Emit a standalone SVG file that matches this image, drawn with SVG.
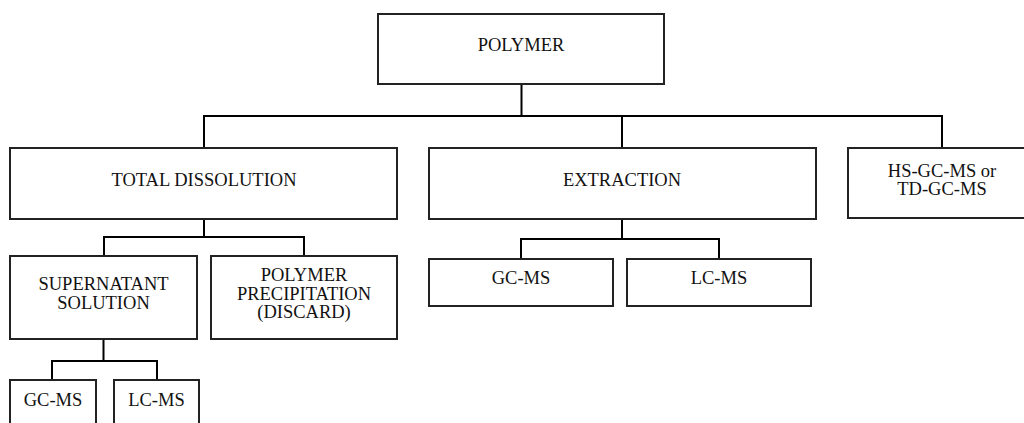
<svg xmlns="http://www.w3.org/2000/svg" width="1024" height="423" viewBox="0 0 1024 423">
<style>
.box{fill:#fff;stroke:#222;stroke-width:2}
.con{fill:none;stroke:#000;stroke-width:2}
text{font-family:"Liberation Serif","Times New Roman",serif;font-size:18.5px;fill:#111;text-anchor:middle}
</style>
<rect width="1024" height="423" fill="#fff"/>
<g id="connectors">
<path class="con" d="M521.5 84V116M204 148V116H942V148M622 116V148"/>
<path class="con" d="M204 219V237M104 256V237H304V256"/>
<path class="con" d="M103.5 339V361M52 380V361H157V380"/>
<path class="con" d="M622 219V239M521 259V239H719V259"/>
</g>
<g id="polymer"><rect class="box" x="378" y="14" width="286" height="70"/><text x="521" y="51">POLYMER</text></g>
<g id="total-dissolution"><rect class="box" x="10" y="148" width="387" height="71"/><text x="204" y="186">TOTAL DISSOLUTION</text></g>
<g id="extraction"><rect class="box" x="429" y="148" width="387" height="71"/><text x="622" y="186">EXTRACTION</text></g>
<g id="hs-td"><rect class="box" x="848" y="148" width="188" height="70"/><text x="942" y="177">HS-GC-MS or</text><text x="942" y="195">TD-GC-MS</text></g>
<g id="supernatant"><rect class="box" x="10" y="256" width="187" height="83"/><text x="103.5" y="290">SUPERNATANT</text><text x="103.5" y="309">SOLUTION</text></g>
<g id="precipitation"><rect class="box" x="211" y="256" width="186" height="83"/><text x="304" y="281">POLYMER</text><text x="304" y="300">PRECIPITATION</text><text x="304" y="318">(DISCARD)</text></g>
<g id="ext-gcms"><rect class="box" x="429" y="259" width="184" height="47"/><text x="521" y="284">GC-MS</text></g>
<g id="ext-lcms"><rect class="box" x="627" y="259" width="184" height="47"/><text x="719" y="284">LC-MS</text></g>
<g id="sup-gcms"><rect class="box" x="10" y="380" width="86" height="52"/><text x="53" y="406">GC-MS</text></g>
<g id="sup-lcms"><rect class="box" x="114" y="380" width="85" height="52"/><text x="156.5" y="406">LC-MS</text></g>
</svg>
